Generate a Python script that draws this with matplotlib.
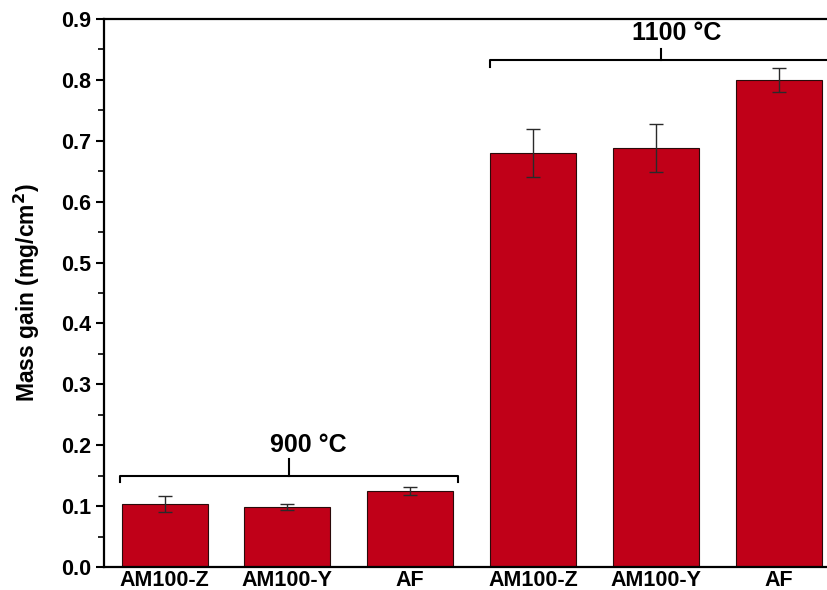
import matplotlib
matplotlib.use("Agg")
import matplotlib.pyplot as plt

categories = ["AM100-Z", "AM100-Y", "AF", "AM100-Z", "AM100-Y", "AF"]
mass_gain = [0.104, 0.099, 0.125, 0.680, 0.688, 0.800]
errors = [0.013, 0.005, 0.007, 0.040, 0.040, 0.020]
group_labels = ["900 \u00b0C", "1100 \u00b0C"]

plt.rcParams['font.family'] = ['Liberation Sans', 'DejaVu Sans']

fig = plt.figure(figsize=(8.27, 5.90), dpi=100)
ax = fig.add_axes([0.1258, 0.039, 0.905, 0.9288])

x = list(range(len(categories)))
ax.bar(x, mass_gain, width=0.7, color="#C00018", edgecolor="#2a0a0a", linewidth=0.8,
       yerr=errors, error_kw=dict(ecolor="#2a2a2a", elinewidth=1.0, capsize=5, capthick=1.0),
       zorder=2)

ax.set_xlim(-0.493, 5.6)
ax.set_ylim(0, 0.9)
ax.set_yticks([0.0, 0.1, 0.2, 0.3, 0.4, 0.5, 0.6, 0.7, 0.8, 0.9])
ax.set_yticklabels([f"{v:.1f}" for v in ax.get_yticks()], fontsize=15.5, fontweight='bold')
ax.set_yticks([0.05 + 0.1 * i for i in range(9)], minor=True)
ax.tick_params(axis='y', which='major', direction='out', length=6, width=1.5, pad=3)
ax.tick_params(axis='y', which='minor', direction='out', length=4, width=1.2)
ax.set_xticks(x)
ax.set_xticklabels(categories, fontsize=15.5, fontweight='bold')
ax.tick_params(axis='x', length=0, pad=2)

for s in ['left', 'bottom', 'top']:
    ax.spines[s].set_linewidth(1.6)
ax.spines['right'].set_visible(False)

ax.set_ylabel("Mass gain (mg/cm$^{\\mathbf{2}}$)", fontsize=16.5, fontweight='bold')
ax.yaxis.set_label_coords(-0.083, 0.5)

# brackets
def bracket(x0, x1, xm, y, hook, tick, label, xt, yt):
    ax.plot([x0, x0, x1, x1], [y - hook, y, y, y - hook], color='black', lw=1.5, clip_on=False, zorder=3)
    ax.plot([xm, xm], [y, y + tick], color='black', lw=1.5, zorder=3)
    ax.text(xt, yt, label, ha='center', va='center', fontsize=18, fontweight='bold')

bracket(-0.362, 2.39, 1.014, 0.149, 0.010, 0.028, group_labels[0], 1.169, 0.200)
bracket(2.65, 5.6, 4.043, 0.8325, 0.012, 0.018, group_labels[1], 4.165, 0.877)

fig.savefig("out.png", dpi=100)
